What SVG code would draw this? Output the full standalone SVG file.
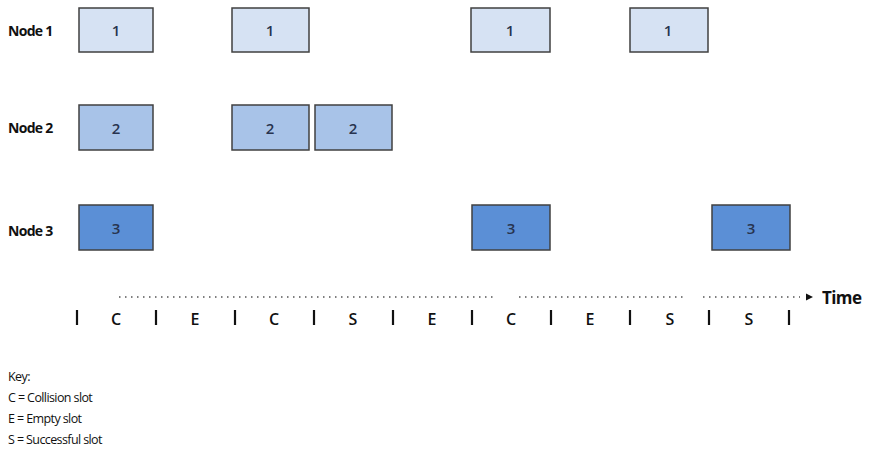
<svg xmlns="http://www.w3.org/2000/svg" width="871" height="468" viewBox="0 0 871 468">
<style>
.lbl{font-family:"Open Sans","Liberation Sans",sans-serif;font-size:14px;font-weight:700;fill:#111;letter-spacing:-0.7px}
.box rect{stroke:#404040;stroke-width:1.5}
.n1 rect{fill:#d6e2f3}
.n2 rect{fill:#a8c3e8}
.n3 rect{fill:#5b8fd6}
.num{font-family:"Open Sans","Liberation Sans",sans-serif;font-size:15px;font-weight:600;fill:#28344f;text-anchor:middle}
.slot{font-family:"Open Sans","Liberation Sans",sans-serif;font-size:16px;font-weight:600;fill:#111;text-anchor:middle}
.tick{stroke:#111;stroke-width:2.2}
.dot{stroke:#555;stroke-width:1.5;stroke-dasharray:1.5 4.5}
.key{font-family:"Open Sans","Liberation Sans",sans-serif;font-size:12.5px;fill:#111;letter-spacing:-0.6px}
</style>
<g id="labels">
<text class="lbl" x="8" y="36">Node 1</text>
<text class="lbl" x="8" y="133">Node 2</text>
<text class="lbl" x="8" y="236">Node 3</text>
</g>
<g id="node1" class="box n1">
<rect x="79" y="8" width="74" height="44"/><text class="num" x="116" y="36">1</text>
<rect x="232" y="8" width="77" height="44"/><text class="num" x="270" y="36">1</text>
<rect x="471" y="8" width="79" height="44"/><text class="num" x="510" y="36">1</text>
<rect x="630" y="8" width="78" height="44"/><text class="num" x="668" y="36">1</text>
</g>
<g id="node2" class="box n2">
<rect x="79" y="105" width="74" height="45"/><text class="num" x="116" y="134">2</text>
<rect x="232" y="105" width="77" height="45"/><text class="num" x="270" y="134">2</text>
<rect x="315" y="105" width="77" height="45"/><text class="num" x="353" y="134">2</text>
</g>
<g id="node3" class="box n3">
<rect x="79" y="205" width="74" height="45"/><text class="num" x="116" y="234">3</text>
<rect x="472" y="205" width="78" height="45"/><text class="num" x="511" y="234">3</text>
<rect x="712" y="205" width="78" height="45"/><text class="num" x="751" y="234">3</text>
</g>
<g id="connectors">
<line class="dot" x1="119" y1="297" x2="493" y2="297"/>
<line class="dot" x1="519" y1="297" x2="684" y2="297"/>
<line class="dot" x1="703" y1="297" x2="800" y2="297"/>
<path d="M806,293.5 L813,297 L806,300.5 Z" fill="#111"/>
</g>
<g id="timeline">
<text x="822" y="304" font-family="Open Sans, Liberation Sans, sans-serif" font-size="17" font-weight="700" fill="#111" letter-spacing="-0.6">Time</text>
<line class="tick" x1="77" y1="310" x2="77" y2="325"/>
<line class="tick" x1="156" y1="310" x2="156" y2="325"/>
<line class="tick" x1="235" y1="310" x2="235" y2="325"/>
<line class="tick" x1="314" y1="310" x2="314" y2="325"/>
<line class="tick" x1="393" y1="310" x2="393" y2="325"/>
<line class="tick" x1="472" y1="310" x2="472" y2="325"/>
<line class="tick" x1="551" y1="310" x2="551" y2="325"/>
<line class="tick" x1="630" y1="310" x2="630" y2="325"/>
<line class="tick" x1="709" y1="310" x2="709" y2="325"/>
<line class="tick" x1="789" y1="310" x2="789" y2="325"/>
<text class="slot" x="116" y="325">C</text>
<text class="slot" x="195" y="325">E</text>
<text class="slot" x="274" y="325">C</text>
<text class="slot" x="353" y="325">S</text>
<text class="slot" x="432" y="325">E</text>
<text class="slot" x="511" y="325">C</text>
<text class="slot" x="590" y="325">E</text>
<text class="slot" x="670" y="325">S</text>
<text class="slot" x="749" y="325">S</text>
</g>
<g id="key">
<text class="key" x="8" y="381" font-size="13.5">Key:</text>
<text class="key" x="8" y="402">C = Collision slot</text>
<text class="key" x="8" y="423">E = Empty slot</text>
<text class="key" x="8" y="444">S = Successful slot</text>
</g>
</svg>
